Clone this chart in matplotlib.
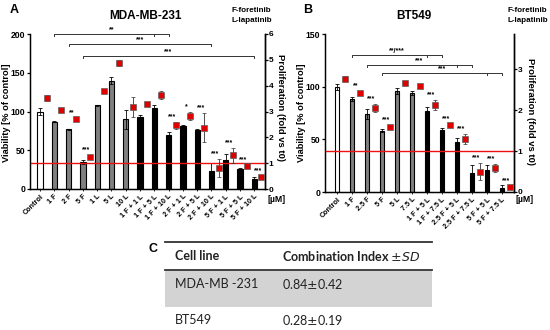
import matplotlib
matplotlib.use('Agg')
import matplotlib.pyplot as plt
import numpy as np
from matplotlib.patches import Rectangle
from matplotlib.lines import Line2D

plt.rcParams['font.family'] = ['Liberation Sans', 'DejaVu Sans']

# ---------------- data: panel A (MDA-MB-231) ----------------
labels_a = ['Control', '1 F', '2 F', '5 F', '1 L', '5 L', '10 L',
            '1 F + 1 L', '1 F + 5 L', '1 F + 10 L',
            '2 F + 1 L', '2 F + 5 L', '2 F + 10 L',
            '5 F + 1 L', '5 F + 5 L', '5 F + 10 L']
viability_a = [100, 87, 77, 35, 108, 140, 90, 93, 104, 70, 81, 76, 23, 37, 25.5, 13]
viability_err_a = [4, 1, 1, 3, 1, 4, 12, 3, 5, 4, 2, 2, 10, 8, 1, 2]
prolif_a = [3.51, 3.06, 2.70, 1.24, 3.80, 4.88, 3.17, 3.28, 3.63, 2.46, 2.83, 2.38, 0.82, 1.30, 0.90, 0.47]
prolif_err_a = [0.12, 0.05, 0.04, 0.08, 0.04, 0.10, 0.40, 0.06, 0.15, 0.15, 0.15, 0.55, 0.35, 0.28, 0.04, 0.04]
stars_a = ['', '', '**', '***', '', '', '', '', '', '***', '*', '***', '***', '***', '***', '***']
brackets_a = [(1, 9, [8], '**'), (2, 12, [], '***'), (3, 15, [], '***')]
bracket_levels_a = [200, 187, 172]

# ---------------- data: panel B (BT549) ----------------
labels_b = ['Control', '1 F', '2.5 F', '5 F', '5 L', '7.5 L',
            '1 F + 5 L', '1 F + 7.5 L', '2.5 F + 5 L', '2.5 F + 7.5 L',
            '5 F + 5 L', '5 F + 7.5 L']
viability_b = [100, 88, 74, 58, 96, 94, 77, 59, 47, 18, 20.5, 4]
viability_err_b = [3, 2, 5, 1.5, 3, 2, 4, 2, 4, 8, 5, 2.5]
prolif_b = [2.77, 2.43, 2.06, 1.60, 2.66, 2.60, 2.12, 1.64, 1.30, 0.50, 0.58, 0.12]
prolif_err_b = [0.07, 0.04, 0.10, 0.03, 0.05, 0.04, 0.12, 0.03, 0.12, 0.20, 0.10, 0.04]
stars_b = ['', '**', '***', '***', '', '', '***', '***', '***', '***', '***', '***']
brackets_b = [(1, 7, [6], '**/***'), (2, 9, [8], '***'), (3, 11, [10], '***')]
bracket_levels_b = [130, 120.5, 113]

# ---------------- data: panel C table ----------------
table_header = ['Cell line', r'Combination Index $\pm SD$']
table_rows = [['MDA-MB -231', '0.84$\\pm$0.42'], ['BT549', '0.28$\\pm$0.19']]

W, H = 550, 330
fig = plt.figure(figsize=(W / 100, H / 100), dpi=100)


def rect(l, t, r, b):
    return [l / W, 1 - b / H, (r - l) / W, (b - t) / H]


def fx(px):
    return px / W


def fy(py):
    return 1 - py / H


def panel(r, labels, via, via_err, prol, prol_err, stars, brackets, levels,
          ymax, yticks, rmax, rticks, xl, xr, barw):
    ax = fig.add_axes(r)
    x = np.arange(len(labels))
    colors = ['white' if l == 'Control' else ('black' if '+' in l else '#808080') for l in labels]
    ax.bar(x, via, width=barw, color=colors, edgecolor='black', linewidth=0.8,
           yerr=via_err, error_kw=dict(ecolor='black', elinewidth=0.6, capsize=1.5, capthick=0.6),
           zorder=2)
    ax.set_xlim(xl, xr)
    ax.set_ylim(0, ymax)
    ax.set_yticks(yticks)
    ax.set_xticks(x)
    ax.set_xticklabels(labels, rotation=45, ha='right', rotation_mode='anchor',
                       fontsize=5.2, fontweight='bold')
    ax.tick_params(axis='x', length=1.5, width=0.6, pad=1.5)
    ax.tick_params(axis='y', length=2.5, width=0.9, pad=0.8, labelsize=6.2)
    for t in ax.get_yticklabels():
        t.set_fontweight('bold')
    ax.spines['top'].set_visible(False)
    for s in ['left', 'bottom', 'right']:
        ax.spines[s].set_linewidth(1.0)

    ax2 = ax.twinx()
    ax2.set_ylim(0, rmax)
    ax2.set_yticks(rticks)
    ax2.tick_params(axis='y', length=2, width=0.9, pad=0.5, labelsize=6)
    for t in ax2.get_yticklabels():
        t.set_fontweight('bold')
    ax2.spines['top'].set_visible(False)
    ax2.spines['right'].set_linewidth(1.0)
    ax2.axhline(1, color='#ee1111', lw=1.0, zorder=1)
    ax2.errorbar(x + 0.5, prol, yerr=prol_err, fmt='s', color='#e00000', mec='#606060',
                 mew=0.5, ms=3.8, ecolor='#333333', elinewidth=0.6, capsize=1.5,
                 capthick=0.6, zorder=3)
    for i, s in enumerate(stars):
        if s:
            ax2.annotate(s, xy=(x[i] + 0.25, prol[i] + prol_err[i]), xytext=(0, 1.2),
                         textcoords='offset points', ha='center', va='bottom',
                         fontsize=5, fontweight='bold')
    for (a, b, mids, txt), lv in zip(brackets, levels):
        tick = ymax * 0.015
        ax.plot([a, a, b, b], [lv - tick, lv, lv, lv - tick], color='#333333', lw=0.7,
                clip_on=False)
        for m in mids:
            ax.plot([m, m], [lv, lv - tick], color='#333333', lw=0.7, clip_on=False)
        ax.annotate(txt, xy=((a + b) / 2, lv), xytext=(0, 0.3), textcoords='offset points',
                    ha='center', va='bottom', fontsize=5, fontweight='bold',
                    annotation_clip=False)
    return ax, ax2


panel(rect(30, 34, 265, 189), labels_a, viability_a, viability_err_a, prolif_a, prolif_err_a,
      stars_a, brackets_a, bracket_levels_a, 200, [0, 50, 100, 150, 200], 6,
      [0, 1, 2, 3, 4, 5, 6], -0.7, 15.75, 0.37)
panel(rect(325, 34, 514, 192), labels_b, viability_b, viability_err_b, prolif_b, prolif_err_b,
      stars_b, brackets_b, bracket_levels_b, 150, [0, 50, 100, 150], 3.86,
      [0, 1, 2, 3], -0.8, 11.8, 0.33)

bold = dict(fontweight='bold')
# panel letters and titles
fig.text(fx(14), fy(10), 'A', fontsize=9, ha='center', va='center', **bold)
fig.text(fx(308), fy(10), 'B', fontsize=9, ha='center', va='center', **bold)
fig.text(fx(146), fy(16), 'MDA-MB-231', fontsize=8.5, ha='center', va='center', **bold)
fig.text(fx(414), fy(16), 'BT549', fontsize=8.5, ha='center', va='center', **bold)
for x0 in (232, 507):
    fig.text(fx(x0), fy(11), 'F-foretinib', fontsize=5.8, ha='left', va='center', **bold)
    fig.text(fx(x0), fy(21), 'L-lapatinib', fontsize=5.8, ha='left', va='center', **bold)
# axis labels
fig.text(fx(7), fy(113), 'Viability [% of control]', rotation=90, fontsize=6.7,
         ha='center', va='center', **bold)
fig.text(fx(281), fy(108), 'Proliferation (fold vs t0)', rotation=270, fontsize=6.8,
         ha='center', va='center', **bold)
fig.text(fx(302), fy(113), 'Viability [% of control]', rotation=90, fontsize=6.7,
         ha='center', va='center', **bold)
fig.text(fx(531), fy(112), 'Proliferation (fold vs t0)', rotation=270, fontsize=6.8,
         ha='center', va='center', **bold)
fig.text(fx(268), fy(199), '[µM]', fontsize=6.3, ha='left', va='center', **bold)
fig.text(fx(515), fy(200), '[µM]', fontsize=6.3, ha='left', va='center', **bold)

# ---------------- panel C table ----------------
tfont = dict(family=['Lato', 'DejaVu Sans'], color='#222222')
fig.text(fx(153), fy(249), 'C', fontsize=9, ha='center', va='center', **bold)
fig.patches.append(Rectangle((fx(165), fy(307)), fx(432) - fx(165), fy(271) - fy(307),
                             transform=fig.transFigure, facecolor='#d3d3d3', edgecolor='none'))
fig.lines.append(Line2D([fx(165), fx(432)], [fy(242), fy(242)], transform=fig.transFigure,
                        color='#333333', lw=1.3))
fig.lines.append(Line2D([fx(165), fx(432)], [fy(270), fy(270)], transform=fig.transFigure,
                        color='#333333', lw=1.3))
col_x = [175, 282]
row_y = [256, 284, 320]
for j, h in enumerate(table_header):
    fig.text(fx(col_x[j]), fy(row_y[0]), h, fontsize=9, ha='left', va='center',
             fontweight='bold', **tfont)
for i, row in enumerate(table_rows):
    for j, c in enumerate(row):
        fig.text(fx(col_x[j]), fy(row_y[i + 1]), c, fontsize=9, ha='left', va='center',
                 **tfont)

fig.savefig('out.png', dpi=100)
